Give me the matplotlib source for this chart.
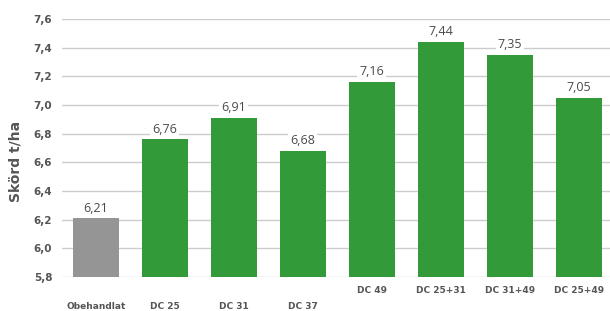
import matplotlib.pyplot as plt
import matplotlib.transforms as mtransforms

categories = ["Obehandlat", "DC 25", "DC 31", "DC 37", "DC 49", "DC 25+31", "DC 31+49", "DC 25+49"]
values = [6.21, 6.76, 6.91, 6.68, 7.16, 7.44, 7.35, 7.05]
label_row = [1, 1, 1, 1, 0, 0, 0, 0]  # staggered x labels like the original
yticks = [5.8, 6.0, 6.2, 6.4, 6.6, 6.8, 7.0, 7.2, 7.4, 7.6]

green = "#339a3a"
gray = "#959595"
txt = "#555555"

plt.rcParams['font.family'] = ['Open Sans', 'DejaVu Sans']

fig = plt.figure(figsize=(6.10, 3.11), dpi=100)
ax = fig.add_axes([0.1016, 0.109, 0.8984, 0.830])

colors = [gray] + [green] * (len(values) - 1)
x = list(range(len(categories)))
base = 5.8
ax.bar(x, [v - base for v in values], bottom=base, width=0.667, color=colors, zorder=3)

ax.set_ylim(5.8, 7.6)
ax.set_xlim(-0.49, len(categories) - 0.55)
ax.set_yticks(yticks)
ax.set_yticklabels([f"{t:.1f}".replace(".", ",") for t in yticks],
                   fontsize=7.5, fontweight='bold', color=txt, family='DejaVu Sans')
ax.tick_params(axis='y', length=0, pad=7)
ax.set_xticks([])
ax.grid(axis='y', color="#cccccc", linewidth=1, zorder=0)
for s in ax.spines.values():
    s.set_visible(False)

ax.set_ylabel("Skörd t/ha", fontsize=10, fontweight='bold', color=txt, family='DejaVu Sans')
ax.yaxis.set_label_coords(-0.072, 0.45)

for xi, v in zip(x, values):
    ax.text(xi, v + 0.025, f"{v:.2f}".replace(".", ","), ha='center', va='bottom',
            fontsize=9, color="#4a4a4a", zorder=4,
            bbox=dict(facecolor='white', edgecolor='none', pad=1.5))

trans = mtransforms.blended_transform_factory(ax.transData, ax.transAxes)
for xi, c, r in zip(x, categories, label_row):
    yy = -0.112 if r else -0.050
    ax.text(xi, yy, c, transform=trans, ha='center', va='center',
            fontsize=6.5, fontweight='bold', color=txt, family='DejaVu Sans')

fig.savefig("out.png", dpi=100)
